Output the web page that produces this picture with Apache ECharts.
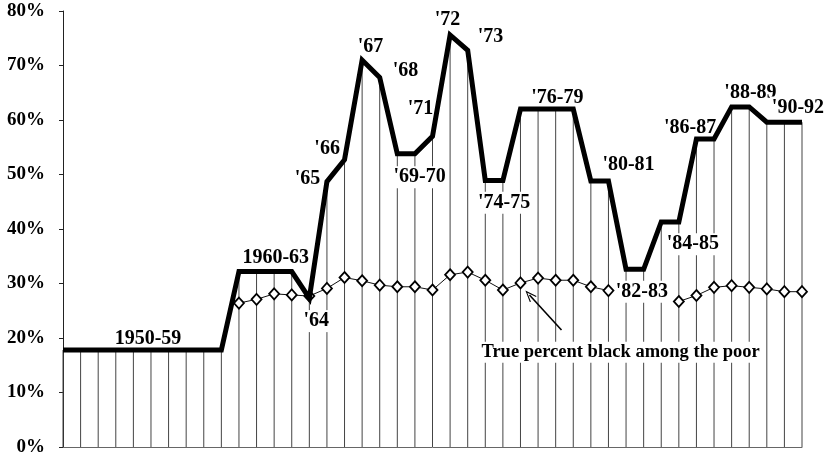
<!DOCTYPE html>
<html>
<head>
<meta charset="utf-8">
<script src="https://cdn.jsdelivr.net/npm/echarts@6/dist/echarts.min.js"></script>
<style>
html,body{margin:0;padding:0;background:#fff;}
#chart{width:826px;height:457px;}
</style>
</head>
<body>
<div id="chart"></div>
<script>
// ---- data ----
const years = [1950,1951,1952,1953,1954,1955,1956,1957,1958,1959,
  1960,1961,1962,1963,1964,1965,1966,1967,1968,1969,
  1970,1971,1972,1973,1974,1975,1976,1977,1978,1979,
  1980,1981,1982,1983,1984,1985,1986,1987,1988,1989,
  1990,1991,1992];

// percent black in news magazine pictures of the poor
const pictureBlack = [17.8,17.8,17.8,17.8,17.8,17.8,17.8,17.8,17.8,17.8,
  32.2,32.2,32.2,32.2,27.3,48.7,52.7,71.0,67.8,53.8,
  53.8,57.0,75.6,72.8,48.9,48.9,62.0,62.0,62.0,62.0,
  48.8,48.8,32.6,32.6,41.3,41.3,56.5,56.5,62.4,62.4,
  59.6,59.6,59.6];

// true percent black among the poor
const trueBlack = [null,null,null,null,null,null,null,null,null,null,
  26.4,27.1,28.1,27.9,27.7,29.1,31.1,30.5,29.7,29.4,
  29.4,28.8,31.6,32.1,30.6,28.8,30.1,31.0,30.6,30.6,
  29.4,28.7,null,null,null,26.7,27.8,29.3,29.6,29.3,
  29.0,28.5,28.5];

const yTicks = [0,10,20,30,40,50,60,70,80];

const periodLabels = ["1950-59","1960-63","'64","'65","'66","'67","'68","'69-70","'71","'72","'73",
  "'74-75","'76-79","'80-81","'82-83","'84-85","'86-87","'88-89","'90-92"];
const noteText = "True percent black among the poor";

// ---- layout of annotations (data coordinates: year, percent) ----
const labelAnchors = [
  [1954.83,19.8],[1962.09,34.7],[1964.39,23.1],[1963.9,49.2],[1965.01,54.7],
  [1967.48,73.4],[1969.47,69.0],[1970.27,49.5],[1970.32,62.0],[1971.85,78.4],
  [1974.3,75.2],[1975.07,44.8],[1978.1,64.1],[1982.14,51.7],[1982.9,28.5],
  [1985.8,37.2],[1985.64,58.5],[1989.07,65.0],[1991.77,62.3]
];
const noteAnchor = [1981.69,17.4];
const arrowFrom = [1978.33,21.47];
const arrowTo = [1976.51,27.89];

const FONT = "'Liberation Serif','Times New Roman',serif";

const lineData = years.map((y,i)=>[y,pictureBlack[i]]);
const trueData = years.map((y,i)=>[y,trueBlack[i]]);
const labelData = periodLabels.map((t,i)=>({value:[labelAnchors[i][0],labelAnchors[i][1]],name:t}));
labelData.push({value:[noteAnchor[0],noteAnchor[1]],name:noteText,label:{fontSize:18.5}});

const chart = echarts.init(document.getElementById('chart'));
chart.setOption({
  animation:false,
  backgroundColor:'#fff',
  grid:{left:63,right:24,top:11,bottom:10,containLabel:false,outerBoundsMode:'none'},
  xAxis:{
    type:'value',min:years[0],max:years[years.length-1],
    axisLine:{show:true,onZero:false,lineStyle:{color:'#666',width:1}},
    axisTick:{show:false},axisLabel:{show:false},splitLine:{show:false}
  },
  yAxis:{
    type:'value',min:yTicks[0],max:yTicks[yTicks.length-1],interval:10,
    axisLine:{show:true,lineStyle:{color:'#222',width:1}},
    axisTick:{show:true,length:4,lineStyle:{color:'#222'}},
    splitLine:{show:false},
    axisLabel:{formatter:'{value}%',margin:18,color:'#000',
      fontFamily:FONT,fontWeight:'bold',fontSize:19}
  },
  series:[
    {
      type:'bar',data:lineData,barWidth:1,z:1,silent:true,
      itemStyle:{color:'#444'}
    },
    {
      type:'scatter',data:labelData,symbol:'rect',symbolSize:1,z:3,silent:true,
      itemStyle:{color:'#fff',opacity:1},
      label:{show:true,position:'inside',formatter:p=>p.name,
        color:'#000',opacity:1,textBorderWidth:0,textShadowBlur:0,
        fontFamily:FONT,fontWeight:'bold',fontSize:20,
        backgroundColor:'#fff',padding:[1,2]}
    },
    {
      type:'line',data:trueData,z:4,silent:true,
      symbol:'diamond',symbolSize:[10,11],showSymbol:true,connectNulls:false,
      lineStyle:{color:'#111',width:1},
      itemStyle:{color:'#fff',borderColor:'#000',borderWidth:1.8},
      markLine:{
        silent:true,animation:false,
        symbol:['none','path://M0,12 L6,0 L12,12 L10.6,12.6 L6,3 L1.4,12.6 Z'],
        symbolSize:[9,12],
        label:{show:false},
        lineStyle:{color:'#000',width:1.6,type:'solid'},
        data:[[{coord:arrowFrom},{coord:arrowTo}]]
      }
    },
    {
      type:'line',data:lineData,z:5,silent:true,showSymbol:false,symbol:'none',
      lineStyle:{color:'#000',width:5,join:'miter'}
    }
  ]
});
</script>
</body>
</html>
